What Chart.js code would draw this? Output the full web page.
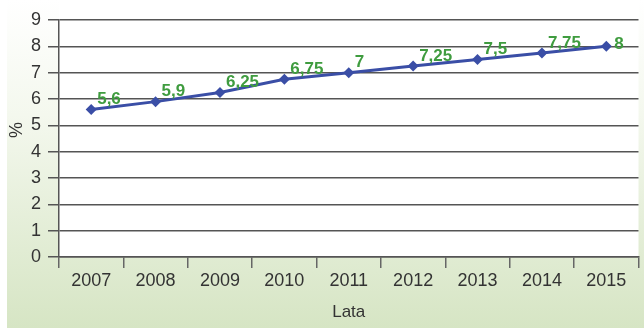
<!DOCTYPE html>
<html>
<head>
<meta charset="utf-8">
<script src="https://cdn.jsdelivr.net/npm/chart.js@4/dist/chart.umd.min.js"></script>
<style>
  html, body { margin: 0; padding: 0; background: #ffffff; }
  #wrap { position: relative; width: 644px; height: 328px; }
</style>
</head>
<body>
<div id="wrap"><canvas id="c" width="644" height="328"></canvas></div>
<script>
const years = ['2007', '2008', '2009', '2010', '2011', '2012', '2013', '2014', '2015'];
const values = [5.6, 5.9, 6.25, 6.75, 7, 7.25, 7.5, 7.75, 8];
const valueLabels = ['5,6', '5,9', '6,25', '6,75', '7', '7,25', '7,5', '7,75', '8'];
const yTicks = [0, 1, 2, 3, 4, 5, 6, 7, 8, 9];
const xTitle = 'Lata';
const yTitle = '%';

const FONT = "'Liberation Sans', Arial, sans-serif";

const bgPlugin = {
  id: 'bg',
  beforeDraw(chart) {
    const ctx = chart.ctx;
    const w = chart.width, h = chart.height;
    ctx.save();
    ctx.fillStyle = '#ffffff';
    ctx.fillRect(0, 0, w, h);
    const g = ctx.createLinearGradient(0, 0, 0, h);
    g.addColorStop(0, '#ffffff');
    g.addColorStop(0.35, '#f4f8ee');
    g.addColorStop(1, '#d6e5c4');
    ctx.fillStyle = g;
    ctx.fillRect(7, 0, w - 7, h);
    const a = chart.chartArea;
    ctx.fillStyle = '#ffffff';
    ctx.fillRect(a.left, a.top - 20, a.right - a.left, a.bottom - a.top + 20);
    ctx.restore();
  }
};

const labelPlugin = {
  id: 'vlabels',
  afterDatasetsDraw(chart) {
    const ctx = chart.ctx;
    const meta = chart.getDatasetMeta(0);
    ctx.save();
    ctx.font = "bold 17px " + FONT;
    ctx.fillStyle = '#3f9c3f';
    ctx.textAlign = 'left';
    ctx.textBaseline = 'middle';
    meta.data.forEach((pt, i) => {
      const last = i === meta.data.length - 1;
      const dx = last ? 8 : 6;
      const dy = last ? -2 : -10;
      ctx.fillText(valueLabels[i], pt.x + dx, pt.y + dy);
    });
    // y axis title
    ctx.font = "18px " + FONT;
    ctx.fillStyle = '#333';
    ctx.textAlign = 'center';
    ctx.translate(17, 130);
    ctx.rotate(-Math.PI / 2);
    ctx.fillText(yTitle, 0, 0);
    ctx.restore();
  }
};

new Chart(document.getElementById('c'), {
  type: 'line',
  data: {
    labels: years,
    datasets: [{
      data: values,
      borderColor: '#3a4ea6',
      backgroundColor: '#3a4ea6',
      borderWidth: 3,
      pointStyle: 'rectRot',
      pointRadius: 5.5,
      pointBorderWidth: 0,
      pointBackgroundColor: '#3a4ea6',
      tension: 0,
      fill: false
    }]
  },
  options: {
    responsive: false,
    animation: false,
    devicePixelRatio: 1,
    layout: { padding: { left: 0, right: 0, top: 20, bottom: 0 } },
    plugins: { legend: { display: false }, tooltip: { enabled: false } },
    scales: {
      x: {
        offset: true,
        grid: { display: true, drawOnChartArea: false, offset: true, tickLength: 11, color: '#666', lineWidth: 1.5 },
        border: { display: true, color: '#555', width: 1.5 },
        ticks: { color: '#333', font: { family: FONT, size: 18 }, padding: 2, maxRotation: 0, autoSkip: false },
        title: { display: true, text: xTitle, color: '#333', font: { family: FONT, size: 17 }, padding: { top: 2, bottom: 5 } },
        afterFit(s) { s.height = 71; }
      },
      y: {
        min: 0, max: 9,
        afterBuildTicks(s) { s.ticks = yTicks.map(v => ({ value: v })); },
        grid: { color: '#555', lineWidth: 1.5, tickLength: 11 },
        border: { display: true, color: '#555', width: 1.5 },
        ticks: { color: '#333', font: { family: FONT, size: 18 }, padding: 7 },
        title: { display: false },
        afterFit(s) { s.width = 59; }
      }
    }
  },
  plugins: [bgPlugin, labelPlugin]
});
</script>
</body>
</html>
